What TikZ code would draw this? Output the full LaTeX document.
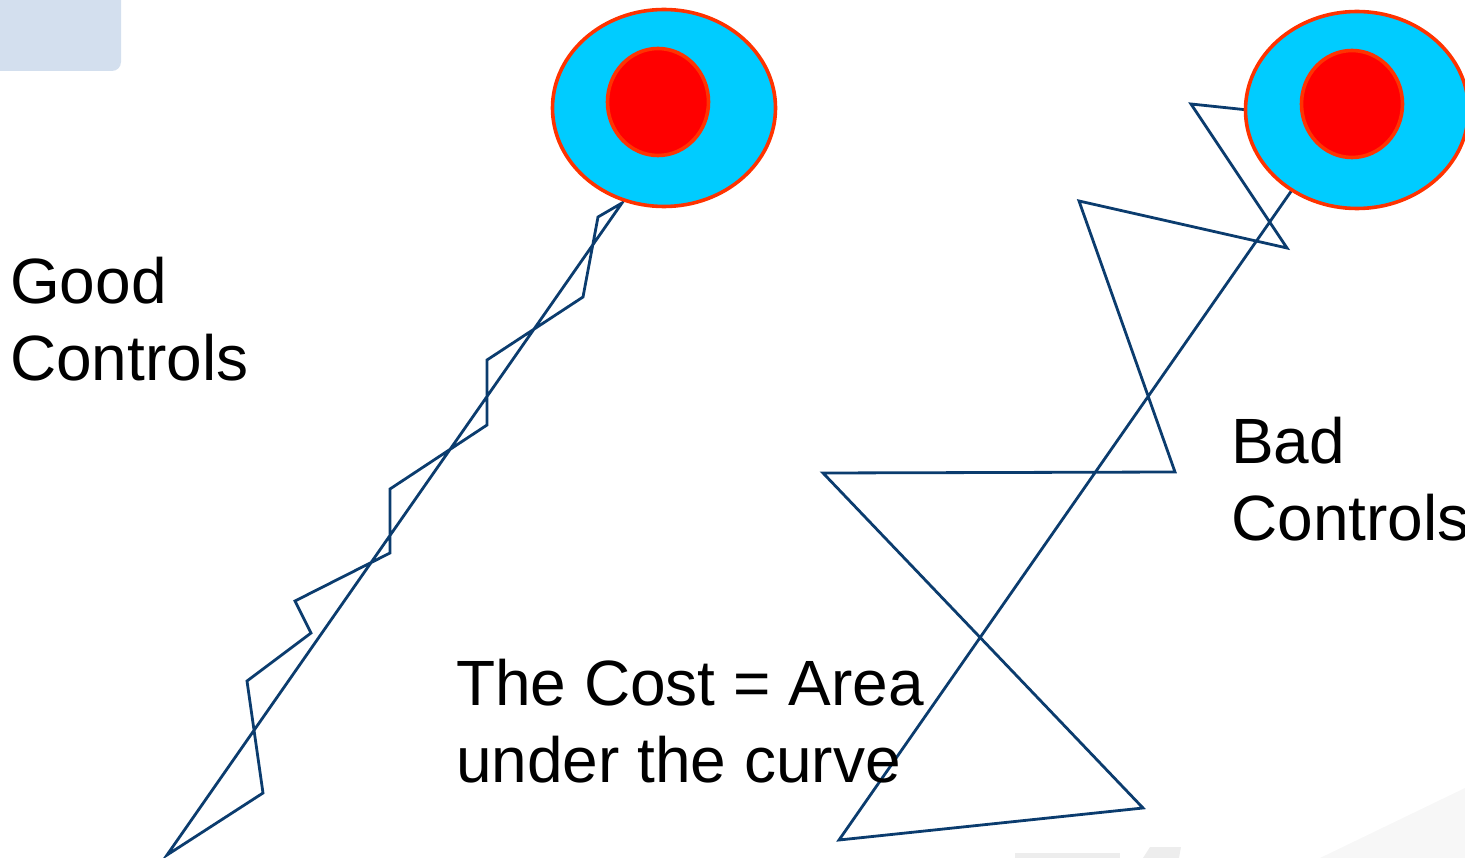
\documentclass[tikz,border=0pt]{standalone}
\usepackage{fontspec}
\setmainfont{Liberation Sans}
\usetikzlibrary{shapes.geometric}
\definecolor{pathblue}{HTML}{0B3C6E}
\definecolor{ringred}{HTML}{FF3300}
\definecolor{cyanfill}{HTML}{00CCFF}
\definecolor{tabblue}{HTML}{D3DFEE}
\tikzset{
  trail/.style={draw=pathblue, line width=2.8pt, line join=miter},
  outerring/.style={ellipse, draw=ringred, line width=3.6pt, fill=cyanfill, minimum width=223pt, minimum height=197pt, inner sep=0pt},
  innerring/.style={ellipse, draw=ringred, line width=3.6pt, fill=red, minimum width=101pt, minimum height=107pt, inner sep=0pt},
  labeltext/.style={font=\fontsize{64pt}{77pt}\selectfont, align=left, inner sep=0pt, anchor=base west},
  faintmark/.style={fill=black!7, draw=none}
}
\begin{document}
\begin{tikzpicture}[x=1pt,y=-1pt]
\useasboundingbox (0,0) rectangle (1465,858);
\begin{scope}
\clip (0,0) rectangle (1465,858);
% faint background marks
\fill[tabblue, rounded corners=9pt] (-30,-30) rectangle (121,71);
\fill[black!3] (1320,858) -- (1465,788) -- (1465,858) -- cycle;
\fill[faintmark] (1015,853) rectangle (1120,858);
\fill[faintmark] (1150,847) -- (1181,847) -- (1179,858) -- (1143,858) -- cycle;

% good controls trail
\coordinate (g0) at (622,203);
\coordinate (g1) at (598,217);
\coordinate (g2) at (583,297);
\coordinate (g3) at (487,360);
\coordinate (g4) at (487,425);
\coordinate (g5) at (390,489);
\coordinate (g6) at (390,553);
\coordinate (g7) at (295,601);
\coordinate (g8) at (311,633);
\coordinate (g9) at (247,681);
\coordinate (g10) at (263,793);
\coordinate (g11) at (167,855);
\draw[trail] (g0) -- (g1) -- (g2) -- (g3) -- (g4) -- (g5) -- (g6) -- (g7) -- (g8) -- (g9) -- (g10) -- (g11) -- cycle;

% bad controls trail
\coordinate (b0) at (1248,110);
\coordinate (b1) at (1191,104);
\coordinate (b2) at (1287,248);
\coordinate (b3) at (1079,201);
\coordinate (b4) at (1175,472);
\coordinate (b5) at (823,473);
\coordinate (b6) at (1143,808);
\coordinate (b7) at (839,840);
\coordinate (b8) at (1292,190);
\draw[trail] (b0) -- (b1) -- (b2) -- (b3) -- (b4) -- (b5) -- (b6) -- (b7) -- (b8);

% targets
\node[outerring] (goodtarget) at (664,108) {};
\node[innerring] (goodbull) at (658,102) {};
\node[outerring] (badtarget) at (1357,110) {};
\node[innerring] (badbull) at (1352,104) {};
\end{scope}

% labels (anchor at baseline of the last line)
\node[labeltext] (goodlabel) at (10,381) {Good\\Controls};
\node[labeltext] (badlabel) at (1231,540) {Bad\\Controls};
\node[labeltext] (costlabel) at (456,782) {The Cost = Area\\under the curve};
\end{tikzpicture}
\end{document}
